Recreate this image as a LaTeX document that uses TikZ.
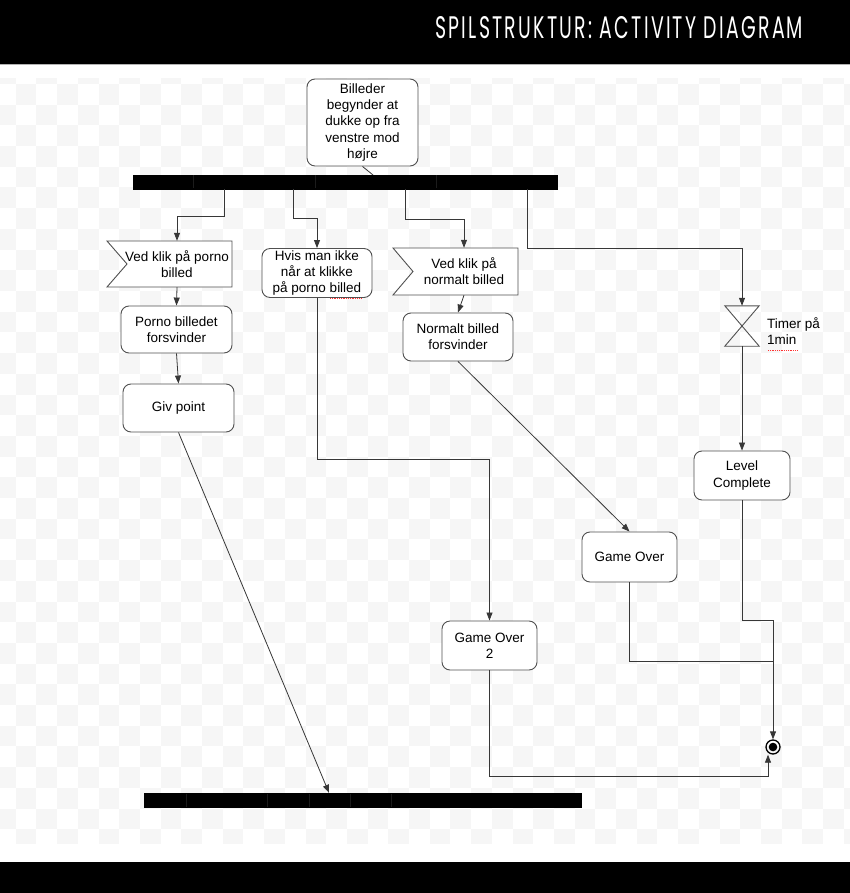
\documentclass[tikz,border=0pt]{standalone}
\usepackage{fontspec}
\setmainfont{Liberation Sans}
\newfontfamily\titlefont[LetterSpace=12]{Poppins}
\usetikzlibrary{arrows.meta,calc}
\definecolor{chk}{RGB}{246,246,246}
\definecolor{ln}{RGB}{55,55,55}
\definecolor{bd}{RGB}{80,80,80}
\definecolor{sep}{RGB}{28,28,28}
\pgfdeclarelayer{chklayer}
\pgfdeclarelayer{shapelayer}
\pgfsetlayers{chklayer,shapelayer,main}
\begin{document}
\begin{tikzpicture}[x=1pt,y=-1pt,
  txt/.style={font=\fontsize{13.5}{16.2}\selectfont},
  act/.style={txt, draw=bd, fill=white, line width=0.9pt, rounded corners=8pt, align=center, inner sep=2pt},
  sigtext/.style={txt, align=center, inner sep=0pt},
  sigshape/.style={draw=bd, fill=white, line width=0.9pt},
  conn/.style={draw=ln, line width=0.8pt},
  arr/.style={conn, -{Triangle[length=8pt,width=6pt]}},
  barnode/.style={fill=black, draw=black, inner sep=0pt, minimum height=14pt},
  spell/.style={draw=red!80, line width=0.8pt, densely dotted}]
\useasboundingbox (0,0) rectangle (850,893);
% checkerboard background
\begin{pgfonlayer}{chklayer}
\begin{scope}
\clip (0,79) rectangle (850,843);
\foreach \r in {-1,...,36}{
  \pgfmathtruncatemacro\cs{mod(\r+2,2)-2}
  \pgfmathtruncatemacro\cn{\cs+2}
  \foreach \c in {\cs,\cn,...,41}{
    \fill[chk] ({15.7+20.7*\c},{84+20.7*\r}) rectangle ++(20.7,20.7);
  }
}
\end{scope}
\end{pgfonlayer}
% header and footer bands
\fill[black] (0,0) rectangle (850,64);
\draw[gray!60, line width=1pt] (0,64.5) -- (850,64.5);
\fill[black] (0,862) rectangle (850,893);
\node[anchor=base west, inner sep=0pt, text=white] (title) at (435,39)
  {\resizebox{368pt}{22pt}{\titlefont SPILSTRUKTUR: ACTIVITY DIAGRAM}};
% top activity
\node[act, minimum width=111pt, minimum height=87pt] (top) at (362.5,122.5)
  {Billeder\\begynder at\\dukke op fra\\venstre mod\\højre};
\draw[conn] (top.south) -- (373,175);
% fork bar
\node[barnode, minimum width=424pt] (bar1) at (345,182) {};
\foreach \xx in {193,315,436} \draw[sep, line width=0.5pt] (\xx,175.5) -- (\xx,188.5);
% column 1
\node[sigtext, minimum width=100pt, minimum height=46pt] (sig1) at (177,264) {Ved klik på porno\\billed};
\begin{pgfonlayer}{shapelayer}
\draw[sigshape] ($(sig1.center)+(-70,-23)$) -- ($(sig1.center)+(55,-23)$) -- ($(sig1.center)+(55,23)$) -- ($(sig1.center)+(-70,23)$) -- ($(sig1.center)+(-50,0)$) -- cycle;
\end{pgfonlayer}
\node[act, minimum width=111pt, minimum height=47pt] (porno) at (176.5,329.5) {Porno billedet\\forsvinder};
\node[act, minimum width=111pt, minimum height=48pt] (giv) at (178.5,408) {Giv point};
% column 2
\node[act, minimum width=110pt, minimum height=48pt] (hvis) at (317,273) {Hvis man ikke\\når at klikke\\på porno billed};
\draw[spell] ($(hvis.south)+(13,0.5)$) -- ($(hvis.south)+(45,0.5)$);
% column 3
\node[sigtext, minimum width=100pt, minimum height=47pt] (sig3) at (464,271.5) {Ved klik på\\normalt billed};
\begin{pgfonlayer}{shapelayer}
\draw[sigshape] ($(sig3.center)+(-71,-23.5)$) -- ($(sig3.center)+(54,-23.5)$) -- ($(sig3.center)+(54,23.5)$) -- ($(sig3.center)+(-71,23.5)$) -- ($(sig3.center)+(-51,0)$) -- cycle;
\end{pgfonlayer}
\node[act, minimum width=110pt, minimum height=48pt] (normalt) at (458,337) {Normalt billed\\forsvinder};
% column 4
\node[minimum width=34pt, minimum height=40pt, inner sep=0pt] (timer) at (742,326) {};
\draw[bd, line width=0.9pt] (timer.north west) -- (timer.north east) -- (timer.south west) -- (timer.south east) -- cycle;
\node[txt, anchor=west, align=left, inner sep=0pt] (tlabel) at (767,331) {Timer på\\1min};
\draw[spell] (768,350) -- (797,350);
\node[act, minimum width=96pt, minimum height=49pt] (level) at (742,475.5) {Level\\Complete};
\node[act, minimum width=95pt, minimum height=50pt] (gameover) at (629.5,557) {Game Over};
\node[act, minimum width=95pt, minimum height=49pt] (gameover2) at (489.5,645.5) {Game Over\\2};
% final node
\node[circle, draw=black, line width=1.3pt, minimum size=14pt, inner sep=0pt] (final) at (773,747) {};
\fill[black] (final.center) circle[radius=4.3pt];
% join bar
\node[barnode, minimum width=437pt] (bar2) at (362.5,800) {};
\foreach \xx in {186,267,309,350,391} \draw[sep, line width=0.5pt] (\xx,793.5) -- (\xx,806.5);
% connectors
\draw[arr] ([xshift=-121pt]bar1.south) -- ++(0,27) -| (sig1.north);
\draw[arr] ([xshift=-52pt]bar1.south) -- ++(0,29) -| (hvis.north);
\draw[arr] ([xshift=60pt]bar1.south) -- ++(0,30) -| (sig3.north);
\draw[arr] ([xshift=182pt]bar1.south) -- ++(0,59) -| (timer.north);
\draw[arr] (sig1.south) -- (porno.north);
\draw[arr] (porno.south) -- (giv.north);
\draw[arr] (giv.south) -- ([xshift=-33.5pt]bar2.north);
\draw[arr] (hvis.south) -- ++(0,161) -| (gameover2.north);
\draw[arr] (sig3.south) -- (normalt.north);
\draw[arr] (normalt.south) -- (gameover.north);
\draw[arr] (timer.south) -- (level.north);
\coordinate (join) at (773,661);
\draw[arr] (level.south) -- ++(0,120) -| (final.north);
\draw[conn] (gameover.south) |- (join);
\draw[arr] (gameover2.south) -- ++(0,106) -| ([xshift=-5pt]final.south);
\end{tikzpicture}
\end{document}
